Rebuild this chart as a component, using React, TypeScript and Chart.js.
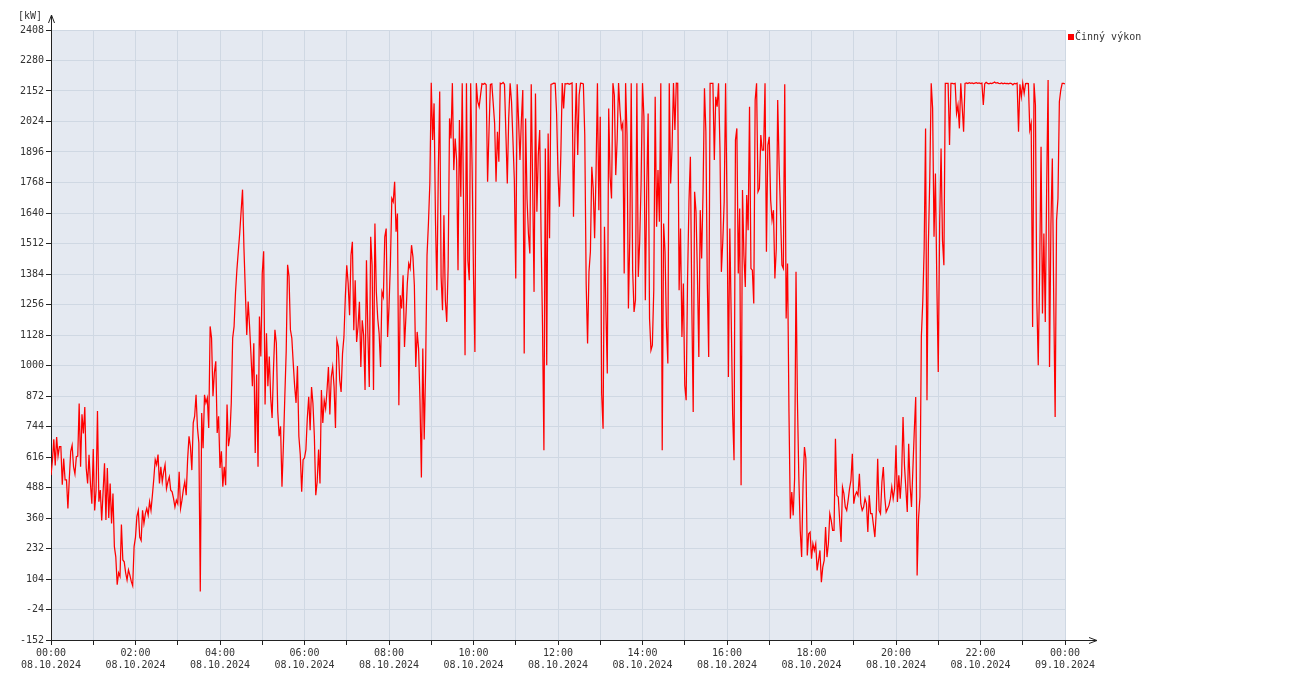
import { useEffect, useRef } from "react";
import { Chart, registerables, type Plugin } from "chart.js";

Chart.register(...registerables);

// active power, one reading every 2 minutes, 08.10.2024 00:00 -> 09.10.2024 00:00
const STEP_MIN = 2;

const kw0003 = [
  540, 600, 690, 580, 700, 620, 660, 660, 500, 610,
  520, 520, 400, 525, 640, 665, 575, 545, 617, 620,
  840, 575, 795, 715, 826, 570, 505, 625, 505, 420,
  650, 392, 477, 809, 428, 477, 350, 470, 590, 352,
  570, 360, 505, 337, 463, 240, 197, 80, 130, 115,
  333, 184, 176, 130, 100, 142, 120, 94, 76, 240,
  280, 367, 392, 280, 266, 392, 337, 378, 400, 372,
  428, 392, 456, 525, 605, 584, 626, 505, 575, 512,
  554, 584, 484, 512, 533, 477, 470, 442, 406, 435,
];

const kw0306 = [
  420, 554, 400, 435, 480, 512, 456, 605, 703, 660,
  561, 759, 787, 877, 738, 675, 52, 801, 653, 877,
  843, 864, 738, 1164, 1115, 871, 969, 1018, 717, 787,
  570, 640, 491, 575, 498, 836, 661, 703, 843, 1115,
  1164, 1304, 1402, 1479, 1555, 1647, 1738, 1493, 1310, 1128,
  1268, 1164, 1045, 913, 1093, 633, 962, 575, 1206, 1038,
  1387, 1479, 836, 1135, 913, 1038, 864, 780, 990, 1150,
  1094, 808, 703, 745, 491, 661, 864, 1059, 1423, 1374,
  1150, 1115, 1010, 913, 843, 998, 703, 626, 470, 605,
];

const kw0609 = [
  612, 647, 780, 869, 728, 910, 840, 703, 456, 512,
  647, 505, 897, 759, 854, 819, 897, 994, 794, 952,
  994, 910, 738, 1106, 1078, 938, 889, 1050, 1120, 1288,
  1421, 1344, 1211, 1463, 1519, 1148, 1358, 1099, 1162, 1267,
  994, 1190, 1127, 897, 1442, 1134, 910, 1540, 1421, 897,
  1596, 1309, 1197, 1134, 994, 1309, 1288, 1540, 1575, 1120,
  1246, 1428, 1701, 1687, 1771, 1561, 1638, 833, 1295, 1239,
  1379, 1078, 1204, 1344, 1428, 1407, 1505, 1456, 1337, 994,
  1141, 1071, 854, 530, 1071, 689, 987, 1463, 1596, 1764,
];

const kw0912 = [
  2187, 1946, 2100, 1610, 1316, 1806, 2150, 1372, 1232, 1631,
  1274, 1183, 1414, 2037, 1953, 2185, 1820, 1953, 1862, 1400,
  2030, 1708, 2185, 1631, 1043, 2185, 1442, 1358, 2185, 1834,
  1379, 1057, 2185, 2107, 2086, 2135, 2183, 2180, 2184, 2178,
  1771, 1981, 2180, 2182, 2100, 2016, 1771, 1981, 1855, 2185,
  2182, 2188, 2180, 1974, 1764, 2037, 2184, 2107, 1946, 1778,
  1365, 2180, 2030, 1862, 2030, 2156, 1050, 2037, 1701, 1554,
  1470, 2180, 1757, 1309, 2142, 1645, 1883, 1988, 1540, 1169,
  644, 1911, 1001, 1974, 1534, 2180, 2182, 2185, 2184, 2058,
];

const kw1215 = [
  1806, 1666, 1883, 2185, 2079, 2183, 2182, 2184, 2180, 2183,
  2186, 1624, 1967, 2185, 1883, 2135, 2185, 2184, 2182, 1967,
  1344, 1092, 1393, 1477, 1834, 1743, 1534, 1806, 2185, 1652,
  2044, 882, 735, 1582, 1232, 966, 2079, 1792, 1701, 2185,
  2135, 1799, 1946, 2185, 2072, 1995, 2016, 1386, 2185, 1967,
  1239, 1540, 2185, 1400, 1225, 1274, 2185, 1372, 1519, 1764,
  2185, 2044, 1274, 1736, 2058, 1197, 1064, 1085, 1316, 2128,
  1582, 1820, 1603, 2185, 644, 1596, 1477, 1162, 1008, 2185,
  1764, 1918, 2185, 1988, 2185, 2184, 1316, 1575, 1120, 1344,
];

const kw1518 = [
  917, 854, 1365, 1687, 1876, 1260, 805, 1729, 1645, 1379,
  1036, 1652, 1449, 1729, 2163, 1981, 1351, 1036, 2184, 2184,
  2184, 1862, 2128, 2086, 2184, 1911, 1393, 1519, 1687, 2184,
  1680, 952, 1575, 1197, 798, 602, 1946, 1995, 1386, 1659,
  497, 1736, 1463, 1330, 1715, 1568, 2086, 1407, 1400, 1260,
  2114, 2184, 1729, 1743, 1967, 1904, 1904, 2184, 1477, 1925,
  1960, 1694, 1610, 1652, 1365, 1491, 2114, 1841, 1638, 1421,
  1407, 2180, 1197, 1428, 805, 357, 469, 371, 525, 1393,
  854, 532, 308, 196, 504, 658, 609, 203, 294, 301,
];

const kw1821 = [
  189, 252, 224, 252, 140, 182, 224, 91, 154, 182,
  322, 196, 252, 378, 350, 308, 308, 693, 455, 448,
  350, 259, 490, 462, 406, 392, 434, 483, 518, 630,
  420, 455, 469, 455, 546, 420, 392, 406, 441, 420,
  301, 455, 378, 378, 329, 280, 385, 609, 392, 378,
  511, 574, 448, 385, 399, 413, 441, 490, 441, 483,
  665, 427, 539, 441, 539, 784, 581, 483, 385, 672,
  497, 406, 567, 728, 868, 119, 357, 448, 1120, 1267,
  1491, 1995, 854, 1512, 1792, 2184, 2079, 1540, 1806, 1344,
];

const kw2124 = [
  973, 1596, 1911, 1526, 1421, 2184, 2184, 2184, 1925, 2184,
  2184, 2182, 2184, 2058, 2093, 1995, 2184, 2086, 1981, 2184,
  2186, 2183, 2187, 2184, 2186, 2183, 2185, 2187, 2184, 2186,
  2183, 2185, 2093, 2182, 2188, 2184, 2182, 2185, 2183, 2186,
  2190, 2185, 2187, 2184, 2183, 2186, 2182, 2185, 2183, 2184,
  2182, 2185, 2183, 2178, 2184, 2182, 2185, 1981, 2180, 2128,
  2185, 2142, 2183, 2184, 2183, 1988, 2016, 1162, 2184, 2093,
  1267, 1001, 1400, 1918, 1218, 1554, 1183, 1757, 2198, 994,
  1589, 1869, 1274, 784, 1610, 1701, 2107, 2156, 2184, 2184,
  2182,
];

const kwDay = [...kw0003, ...kw0306, ...kw0609, ...kw0912, ...kw1215, ...kw1518, ...kw1821, ...kw2124];

const Y_TICKS = [
  -152, -24, 104, 232, 360, 488, 616, 744, 872, 1000, 1128,
  1256, 1384, 1512, 1640, 1768, 1896, 2024, 2152, 2280, 2408,
];
const HOURS = [0, 1, 2, 3, 4, 5, 6, 7, 8, 9, 10, 11, 12, 13, 14, 15, 16, 17, 18, 19, 20, 21, 22, 23, 24];
const DATES = ["08.10.2024", "09.10.2024"];
const SERIES_LABEL = "Činný výkon";
const UNIT = "[kW]";

const FONT = "'DejaVu Sans Mono', monospace";
const AXIS = "#222";
const TEXT = "#333";

const decor: Plugin = {
  id: "decor",
  beforeDraw(chart) {
    const { ctx, chartArea: a } = chart;
    ctx.save();
    ctx.fillStyle = "#e4e9f1";
    ctx.fillRect(a.left, a.top, a.right - a.left, a.bottom - a.top);
    ctx.restore();
  },
  afterDraw(chart) {
    const { ctx, chartArea: a } = chart;
    const x0 = Math.round(a.left) + 0.5;
    const y0 = Math.round(a.bottom) + 0.5;
    ctx.save();
    ctx.strokeStyle = AXIS;
    ctx.lineWidth = 1;
    ctx.beginPath();
    // y arrow
    ctx.moveTo(x0, a.top);
    ctx.lineTo(x0, a.top - 15);
    ctx.moveTo(x0 - 3, a.top - 7);
    ctx.lineTo(x0, a.top - 15);
    ctx.lineTo(x0 + 3, a.top - 7);
    // x arrow
    ctx.moveTo(a.right, y0);
    ctx.lineTo(a.right + 32, y0);
    ctx.moveTo(a.right + 24, y0 - 3);
    ctx.lineTo(a.right + 32, y0);
    ctx.lineTo(a.right + 24, y0 + 3);
    ctx.stroke();

    ctx.font = `10px ${FONT}`;
    ctx.fillStyle = TEXT;
    ctx.textBaseline = "middle";
    ctx.textAlign = "left";
    ctx.fillText(UNIT, 18, a.top - 14);

    // legend
    ctx.fillStyle = "#ff0000";
    ctx.fillRect(a.right + 3, a.top + 4, 6, 6);
    ctx.fillStyle = TEXT;
    ctx.fillText(SERIES_LABEL, a.right + 10, a.top + 7);
    ctx.restore();
  },
};

export default function App() {
  const chartRef = useRef<HTMLCanvasElement | null>(null);
  const chartInstanceRef = useRef<Chart | null>(null);

  useEffect(() => {
    document.body.style.margin = "0";
    if (!chartRef.current) return;
    const ctx = chartRef.current.getContext("2d");
    if (!ctx) return;
    if (chartInstanceRef.current) chartInstanceRef.current.destroy();

    Chart.defaults.font.family = FONT;

    chartInstanceRef.current = new Chart(ctx, {
      type: "line",
      data: {
        datasets: [
          {
            label: SERIES_LABEL,
            data: kwDay.map((v, i) => ({ x: i * STEP_MIN, y: v })),
            borderColor: "#ff0000",
            borderWidth: 1.25,
            pointRadius: 0,
            tension: 0,
          },
        ],
      },
      options: {
        animation: false,
        responsive: true,
        maintainAspectRatio: false,
        layout: { padding: { left: 0, top: 30, right: 235, bottom: 0 } },
        plugins: {
          legend: { display: false },
          tooltip: { enabled: false },
        },
        scales: {
          x: {
            type: "linear",
            min: 0,
            max: 1440,
            afterBuildTicks: (s) => {
              s.ticks = HOURS.map((h) => ({ value: h * 60 }));
            },
            afterFit: (s) => {
              s.height = 60;
            },
            grid: { color: "#cfd8e3", tickColor: AXIS, tickLength: 5 },
            border: { color: AXIS, width: 1 },
            ticks: {
              autoSkip: false,
              maxRotation: 0,
              padding: 2,
              color: TEXT,
              font: { size: 10, lineHeight: 1.2 },
              callback: (v) => {
                const h = Number(v) / 60;
                if (h % 2 !== 0) return "";
                const hh = String(h % 24).padStart(2, "0");
                return [`${hh}:00`, h < 24 ? DATES[0] : DATES[1]];
              },
            },
          },
          y: {
            type: "linear",
            min: -152,
            max: 2408,
            afterBuildTicks: (s) => {
              s.ticks = Y_TICKS.map((v) => ({ value: v }));
            },
            afterFit: (s) => {
              s.width = 51;
            },
            grid: { color: "#cfd8e3", tickColor: AXIS, tickLength: 5 },
            border: { color: AXIS, width: 1 },
            ticks: {
              padding: 2,
              color: TEXT,
              font: { size: 10 },
              callback: (v) => String(v),
            },
          },
        },
      },
      plugins: [decor],
    });

    return () => {
      if (chartInstanceRef.current) {
        chartInstanceRef.current.destroy();
        chartInstanceRef.current = null;
      }
    };
  }, []);

  return (
    <div style={{ width: 1300, height: 700 }}>
      <canvas ref={chartRef} />
    </div>
  );
}
